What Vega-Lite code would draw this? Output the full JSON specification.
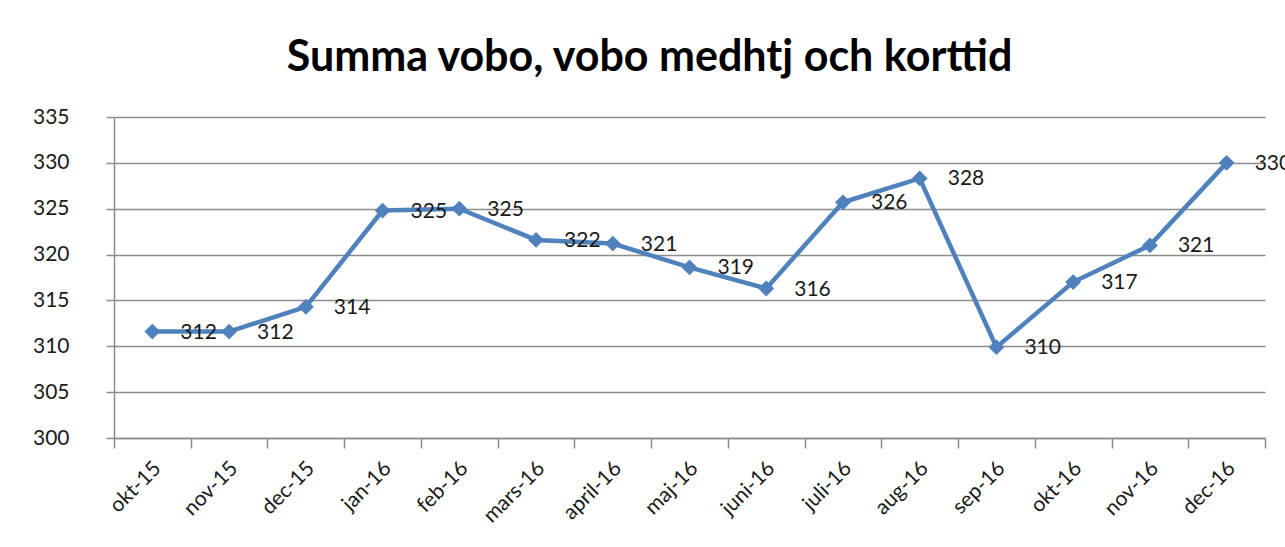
{
  "$schema": "https://vega.github.io/schema/vega-lite/v6.json",
  "autosize": {"type": "none"},
  "width": 1151,
  "height": 321,
  "padding": {"left": 114, "top": 117, "right": 20, "bottom": 109},
  "background": "white",
  "title": {
    "text": "Summa vobo, vobo medhtj  och korttid",
    "font": "Lato",
    "fontSize": 43,
    "fontWeight": "bold",
    "color": "#000000",
    "anchor": "middle",
    "dx": -40,
    "dy": 39,
    "baseline": "alphabetic",
    "offset": 31
  },
  "data": {
    "values": [
      {"month": "okt-15", "value": 311.6},
      {"month": "nov-15", "value": 311.6},
      {"month": "dec-15", "value": 314.3},
      {"month": "jan-16", "value": 324.8},
      {"month": "feb-16", "value": 325.0},
      {"month": "mars-16", "value": 321.6},
      {"month": "april-16", "value": 321.2},
      {"month": "maj-16", "value": 318.6},
      {"month": "juni-16", "value": 316.3},
      {"month": "juli-16", "value": 325.7},
      {"month": "aug-16", "value": 328.3},
      {"month": "sep-16", "value": 309.9},
      {"month": "okt-16", "value": 317.0},
      {"month": "nov-16", "value": 321.0},
      {"month": "dec-16", "value": 330.0}
    ]
  },
  "encoding": {
    "x": {
      "field": "month",
      "type": "nominal",
      "sort": null,
      "title": null,
      "scale": {"type": "band", "paddingInner": 0, "paddingOuter": 0},
      "axis": {
        "labelAngle": -45,
        "labelAlign": "right",
        "labelBaseline": "middle",
        "labelFont": "Lato",
        "labelFontSize": 21,
        "labelColor": "#1a1a1a",
        "labelPadding": 17,
        "labelOffset": 5,
        "tickBand": "extent",
        "tickSize": 10,
        "tickColor": "#8c8c8c",
        "tickWidth": 1.5,
        "domainColor": "#8c8c8c",
        "domainWidth": 1.5,
        "grid": false
      }
    },
    "y": {
      "field": "value",
      "type": "quantitative",
      "title": null,
      "scale": {"domain": [300, 335], "nice": false, "zero": false},
      "axis": {
        "values": [300, 305, 310, 315, 320, 325, 330, 335],
        "labelFont": "Lato",
        "labelFontSize": 21,
        "labelColor": "#1a1a1a",
        "labelPadding": 37,
        "tickSize": 8,
        "tickColor": "#8c8c8c",
        "tickWidth": 1.5,
        "domainColor": "#8c8c8c",
        "domainWidth": 1.5,
        "grid": true,
        "gridColor": "#8c8c8c",
        "gridWidth": 1.5
      }
    }
  },
  "layer": [
    {
      "mark": {
        "type": "line",
        "color": "#4F81BD",
        "strokeWidth": 4.5,
        "point": {"shape": "diamond", "size": 250, "filled": true, "color": "#4F81BD", "opacity": 1}
      }
    },
    {
      "mark": {
        "type": "text",
        "align": "left",
        "baseline": "middle",
        "dx": 28,
        "dy": 1,
        "font": "Lato",
        "fontSize": 21,
        "color": "#1a1a1a"
      },
      "encoding": {
        "text": {"field": "value", "type": "quantitative", "format": ".0f"}
      }
    }
  ],
  "config": {"view": {"stroke": null}}
}
